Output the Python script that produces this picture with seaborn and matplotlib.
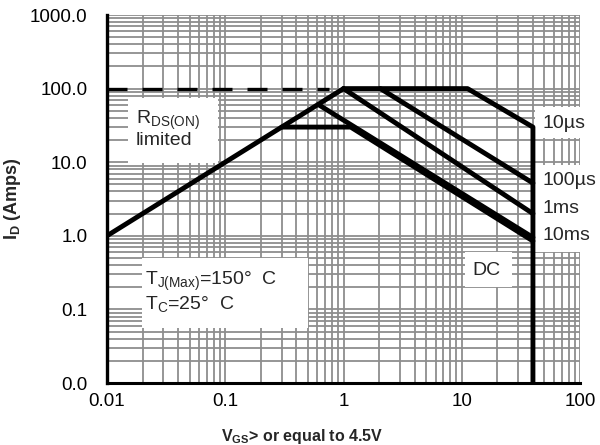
import matplotlib
matplotlib.use("Agg")
import matplotlib.pyplot as plt
import matplotlib.ticker as mticker
from matplotlib.patches import Rectangle
import seaborn as sns
import pandas as pd
import numpy as np

# ---- data ----
rds_v = [0.01, 1.0]
rds_i = [1.0, 100.0]
dash_v = [0.01, 0.75]
dash_i = [100.0, 100.0]
us10_v = [1.0, 11.2, 40.0, 40.0]
us10_i = [100.0, 100.0, 30.0, 0.01]
us100_v = [2.05, 40.0]
us100_i = [100.0, 5.2]
ms1_v = [1.0, 40.0]
ms1_i = [100.0, 2.0]
ms10_v = [0.62, 40.0]
ms10_i = [60.0, 0.95]
dc_v = [0.3, 1.15, 40.0]
dc_i = [30.0, 30.0, 0.85]

x_ticks = [0.01, 0.1, 1, 10, 100]
x_tick_labels = ["0.01", "0.1", "1", "10", "100"]
y_ticks = [0.01, 0.1, 1, 10, 100, 1000]
y_tick_labels = ["0.0", "0.1", "1.0", "10.0", "100.0", "1000.0"]

curve_labels = ["10\u00b5s", "100\u00b5s", "1ms", "10ms"]

sns.set_theme(style="white")
plt.rcParams["font.family"] = ["Liberation Sans", "DejaVu Sans"]
plt.rcParams["mathtext.fontset"] = "custom"
plt.rcParams["mathtext.rm"] = "Liberation Sans"
plt.rcParams["mathtext.it"] = "Liberation Sans"
plt.rcParams["mathtext.bf"] = "Liberation Sans:bold"

fig = plt.figure(figsize=(6.0, 4.45), dpi=100)
L, R, T, B = 107, 580, 15, 383
ax = fig.add_axes([L / 600, 1 - B / 445, (R - L) / 600, (B - T) / 445])

ax.set_xscale("log")
ax.set_yscale("log")
ax.set_xlim(0.01, 100)
ax.set_ylim(0.01, 1000)

lw = 3.5
segments = [
    (rds_v, rds_i),
    (us10_v, us10_i),
    (us100_v, us100_i),
    (ms1_v, ms1_i),
    (ms10_v, ms10_i),
    (dc_v, dc_i),
]
for v, i in segments:
    df = pd.DataFrame({"V": v, "I": i})
    sns.lineplot(data=df, x="V", y="I", ax=ax, color="black", linewidth=lw,
                 sort=False, estimator=None, zorder=5)
df = pd.DataFrame({"V": dash_v, "I": dash_i})
sns.lineplot(data=df, x="V", y="I", ax=ax, color="black", linewidth=2.4,
             sort=False, estimator=None, zorder=5)
ax.lines[-1].set_dashes([6, 4.5])

# grid
ax.xaxis.set_minor_locator(mticker.LogLocator(base=10, subs=np.arange(2, 10)))
ax.yaxis.set_minor_locator(mticker.LogLocator(base=10, subs=np.arange(2, 10)))
ax.grid(True, which="both", color="#8e8e8e", linewidth=1.3)
ax.set_axisbelow(True)

ax.xaxis.set_major_locator(mticker.FixedLocator(x_ticks))
ax.xaxis.set_major_formatter(mticker.FixedFormatter(x_tick_labels))
ax.yaxis.set_major_locator(mticker.FixedLocator(y_ticks))
ax.yaxis.set_major_formatter(mticker.FixedFormatter(y_tick_labels))
ax.xaxis.set_minor_formatter(mticker.NullFormatter())
ax.yaxis.set_minor_formatter(mticker.NullFormatter())
ax.tick_params(axis="both", which="both", length=0)
ax.tick_params(axis="x", labelsize=13.5, pad=7, colors="black")
ax.tick_params(axis="y", labelsize=13.5, pad=14, colors="black")

for s in ["top", "right"]:
    ax.spines[s].set_visible(False)
ax.spines["left"].set_linewidth(2.4)
ax.spines["bottom"].set_linewidth(2.2)
ax.spines["left"].set_color("black")
ax.spines["bottom"].set_color("black")

ax.set_xlabel(r"V$_{\mathregular{GS}}$> or equal to 4.5V", fontsize=11.5,
              fontweight="bold")
ax.xaxis.set_label_coords((302 - L) / (R - L), -0.12)
ax.set_ylabel(r"I$_{\mathregular{D}}$ (Amps)", fontsize=13, fontweight="bold")
ax.yaxis.set_label_coords(-(L - 23) / (R - L), 0.5)


def px(xp, yp):
    return ((xp - L) / (R - L), (B - yp) / (B - T))


def white_box(x1, y1, x2, y2):
    ax0, ay0 = px(x1, y2)
    ax1, ay1 = px(x2, y1)
    ax.add_patch(Rectangle((ax0, ay0), ax1 - ax0, ay1 - ay0, transform=ax.transAxes,
                           facecolor="white", edgecolor="none", zorder=2, clip_on=False))


white_box(128, 98, 218, 163)
white_box(142, 258, 308, 328)
white_box(465, 252, 512, 287)
white_box(535, 107, 582, 138)
white_box(535, 165, 582, 252)

fs = 14
x0, y0 = px(136, 129)
ax.text(x0, y0, "R$_{\\mathregular{DS(ON)}}$\nlimited", transform=ax.transAxes,
        fontsize=fs, va="center", ha="left", linespacing=1.0, zorder=3)

x0, y0 = px(145, 292)
ax.text(x0, y0, "T$_{\\mathregular{J(Max)}}$=150\u00b0  C\nT$_{\\mathregular{C}}$=25\u00b0  C",
        transform=ax.transAxes, fontsize=fs, va="center", ha="left", linespacing=1.05,
        zorder=3)

x0, y0 = px(472, 270)
ax.text(x0, y0, "DC", transform=ax.transAxes, fontsize=fs, va="center", ha="left",
        zorder=3)

label_y = [123, 180, 208, 235]
for lab, yy in zip(curve_labels, label_y):
    x0, y0 = px(542, yy)
    ax.text(x0, y0, lab, transform=ax.transAxes, fontsize=fs, va="center", ha="left",
            zorder=3, clip_on=False)

fig.savefig("out.png", dpi=100)
